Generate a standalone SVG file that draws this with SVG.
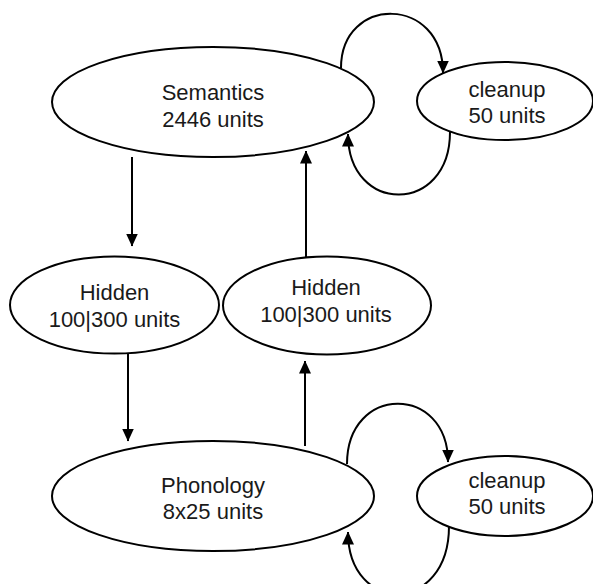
<svg xmlns="http://www.w3.org/2000/svg" width="593" height="584" viewBox="0 0 593 584">
<style>
.node ellipse{fill:#fff;stroke:#000;stroke-width:2}
.node text{font-family:"Liberation Sans",Arial,sans-serif;font-size:22px;fill:#1a1a1a;text-anchor:middle}
#connectors path{fill:none;stroke:#000;stroke-width:2}
</style>
<defs>
<marker id="arr" markerUnits="userSpaceOnUse" markerWidth="13" markerHeight="12" viewBox="0 0 13 12" refX="12.5" refY="6" orient="auto">
<path d="M0,0 L13,6 L0,12 z" fill="#000"/>
</marker>
</defs>
<rect width="593" height="584" fill="#fff"/>
<g id="connectors">
<path d="M132,157 L132,246" marker-end="url(#arr)"/>
<path d="M128,353 L128,441" marker-end="url(#arr)"/>
<path d="M306,258 L306,151" marker-end="url(#arr)"/>
<path d="M305,446 L305,361" marker-end="url(#arr)"/>
<path d="M341,68 C341,-5 443,-5 443,73" marker-end="url(#arr)"/>
<path d="M450,132 C450,215 348,215 348,134" marker-end="url(#arr)"/>
<path d="M347,464 C347,384 448,384 448,462" marker-end="url(#arr)"/>
<path d="M449,526 C449,615 348,615 348,532" marker-end="url(#arr)"/>
</g>
<g id="semantics" class="node">
<ellipse cx="213" cy="102" rx="161" ry="55"/>
<text x="213" y="100">Semantics</text>
<text x="213" y="127">2446 units</text>
</g>
<g id="cleanup-sem" class="node">
<ellipse cx="505" cy="101" rx="88" ry="39"/>
<text x="507" y="97">cleanup</text>
<text x="507" y="123">50 units</text>
</g>
<g id="hidden-left" class="node">
<ellipse cx="114.5" cy="305" rx="104.5" ry="48.5"/>
<text x="114.5" y="300">Hidden</text>
<text x="114.5" y="327">100|300 units</text>
</g>
<g id="hidden-right" class="node">
<ellipse cx="327" cy="305.5" rx="104" ry="49"/>
<text x="326" y="295">Hidden</text>
<text x="326" y="322">100|300 units</text>
</g>
<g id="phonology" class="node">
<ellipse cx="213" cy="496" rx="161" ry="55"/>
<text x="213" y="493">Phonology</text>
<text x="213" y="519">8x25 units</text>
</g>
<g id="cleanup-phon" class="node">
<ellipse cx="505" cy="496" rx="88" ry="40"/>
<text x="507" y="488">cleanup</text>
<text x="507" y="514">50 units</text>
</g>
</svg>
